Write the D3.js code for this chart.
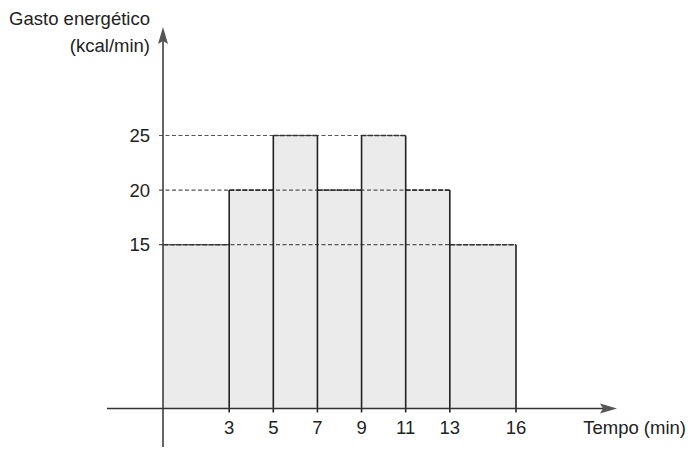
<!DOCTYPE html>
<html>
<head>
<meta charset="utf-8">
<script src="https://cdn.jsdelivr.net/npm/d3@7.9.0/dist/d3.min.js"></script>
<style>
  body { margin: 0; background: #fff; }
  text { font-family: "Liberation Sans", Arial, sans-serif; fill: #222; }
</style>
</head>
<body>
<svg id="chart" width="688" height="450"></svg>
<script>
// Interval edges (min) and energy expenditure for each interval (kcal/min)
const starts = [0, 3, 5, 7, 9, 11, 13];
const ends = [3, 5, 7, 9, 11, 13, 16];
const values = [15, 20, 25, 20, 25, 20, 15];
const xTicks = [3, 5, 7, 9, 11, 13, 16];
const yTicks = [15, 20, 25];

const svg = d3.select("#chart");
const fontSize = "18.5px";

// Scales
const x = d3.scaleLinear().domain([0, 16]).range([163, 516]);
const y = d3.scaleLinear().domain([0, 25]).range([408.5, 135.5]);

const bars = starts.map((s, i) => ({ start: s, end: ends[i], value: values[i] }));

// Bars (fill only)
svg.append("g")
    .selectAll("rect")
    .data(bars)
    .enter()
    .append("rect")
    .attr("x", d => x(d.start))
    .attr("y", d => y(d.value))
    .attr("width", d => x(d.end) - x(d.start))
    .attr("height", d => y(0) - y(d.value))
    .attr("fill", "#ebebeb");

// Dashed reference lines, from the axis to the last bar reaching each value
svg.append("g")
    .selectAll("line")
    .data(yTicks)
    .enter()
    .append("line")
    .attr("x1", x(0) - 4)
    .attr("x2", v => x(d3.max(bars.filter(b => b.value === v), b => b.end)))
    .attr("y1", v => y(v))
    .attr("y2", v => y(v))
    .attr("stroke", "#555")
    .attr("stroke-width", 1.2)
    .attr("stroke-dasharray", "4,2.5");

// Bar tops (dark dashed)
svg.append("g")
    .selectAll("line")
    .data(bars)
    .enter()
    .append("line")
    .attr("x1", d => x(d.start))
    .attr("x2", d => x(d.end))
    .attr("y1", d => y(d.value))
    .attr("y2", d => y(d.value))
    .attr("stroke", "#333")
    .attr("stroke-width", 1.6)
    .attr("stroke-dasharray", "5,1.5");

// Vertical bar edges
const edges = ends.map((e, i) => ({
    t: e,
    top: Math.max(values[i], i + 1 < values.length ? values[i + 1] : 0)
}));
svg.append("g")
    .selectAll("line")
    .data(edges)
    .enter()
    .append("line")
    .attr("x1", d => x(d.t))
    .attr("x2", d => x(d.t))
    .attr("y1", d => y(d.top))
    .attr("y2", y(0) + 4)
    .attr("stroke", "#222")
    .attr("stroke-width", 1.6);

// Axes
const axisColor = "#333";
svg.append("line")
    .attr("x1", 107).attr("x2", 610)
    .attr("y1", y(0)).attr("y2", y(0))
    .attr("stroke", axisColor).attr("stroke-width", 1.5);
svg.append("path")
    .attr("d", `M617,${y(0)} L600,${y(0) - 5} L603,${y(0)} L600,${y(0) + 5} Z`)
    .attr("fill", "#555");

svg.append("line")
    .attr("x1", x(0)).attr("x2", x(0))
    .attr("y1", 34).attr("y2", 447)
    .attr("stroke", axisColor).attr("stroke-width", 1.5);
svg.append("path")
    .attr("d", `M${x(0)},27 L${x(0) - 5},44 L${x(0)},41 L${x(0) + 5},44 Z`)
    .attr("fill", "#555");

// Tick labels
svg.append("g")
    .selectAll("text")
    .data(xTicks)
    .enter()
    .append("text")
    .attr("x", d => x(d))
    .attr("y", 434)
    .attr("text-anchor", "middle")
    .style("font-size", fontSize)
    .text(d => d);

svg.append("g")
    .selectAll("text")
    .data(yTicks)
    .enter()
    .append("text")
    .attr("x", 150)
    .attr("y", d => y(d) + 6.5)
    .attr("text-anchor", "end")
    .style("font-size", fontSize)
    .text(d => d);

// Axis titles
svg.append("text")
    .attr("x", 150).attr("y", 25)
    .attr("text-anchor", "end")
    .style("font-size", fontSize)
    .text("Gasto energético");
svg.append("text")
    .attr("x", 150).attr("y", 52)
    .attr("text-anchor", "end")
    .style("font-size", fontSize)
    .text("(kcal/min)");
svg.append("text")
    .attr("x", 686).attr("y", 434)
    .attr("text-anchor", "end")
    .style("font-size", fontSize)
    .text("Tempo (min)");
</script>
</body>
</html>
